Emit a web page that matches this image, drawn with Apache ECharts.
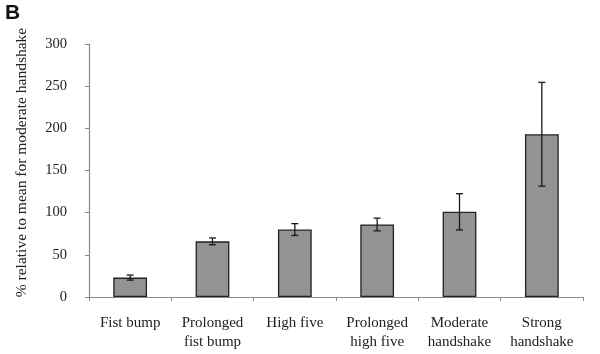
<!DOCTYPE html>
<html><head><meta charset="utf-8">
<script src="https://cdn.jsdelivr.net/npm/echarts@6/dist/echarts.min.js"></script>
<style>html,body{margin:0;padding:0;background:#fff}#c{width:600px;height:354px}</style>
</head><body><div id="c"></div>
<script>
const categories = ['Fist bump', 'Prolonged\nfist bump', 'High five', 'Prolonged\nhigh five', 'Moderate\nhandshake', 'Strong\nhandshake'];
const values = [23, 66, 80, 86, 101, 193];
const errors = [3, 4, 7, 7.5, 21.5, 61.5];
const yTicks = [0, 50, 100, 150, 200, 250, 300];

const errData = values.map((v, i) => [i, v - errors[i], v + errors[i]]);
const serif = 'Liberation Serif';
const chart = echarts.init(document.getElementById('c'), null, {renderer: 'canvas'});
chart.setOption({
  animation: false,
  backgroundColor: '#fff',
  grid: {left: 89, right: 17, top: 44, bottom: 57, containLabel: false},
  graphic: [{type: 'text', left: 5, top: 3, style: {text: 'B', font: 'bold 21px Liberation Sans', fill: '#111'}}],
  xAxis: {
    type: 'category', data: categories,
    axisLine: {lineStyle: {color: '#8a8a8a', width: 1.2}},
    axisTick: {show: true, length: 4, lineStyle: {color: '#8a8a8a'}},
    axisLabel: {fontFamily: serif, fontSize: 15, color: '#222', margin: 17, lineHeight: 19, interval: 0}
  },
  yAxis: {
    type: 'value', min: yTicks[0], max: yTicks[yTicks.length - 1], interval: 50,
    name: '% relative to mean for moderate handshake', nameLocation: 'middle', nameGap: 59,
    nameTextStyle: {fontFamily: serif, fontSize: 15.5, color: '#222', padding: [0, 0, 0, 16]},
    splitLine: {show: false},
    axisLine: {show: true, lineStyle: {color: '#8a8a8a', width: 1.2}},
    axisTick: {show: true, length: 4, lineStyle: {color: '#8a8a8a'}},
    axisLabel: {fontFamily: serif, fontSize: 14.5, color: '#222', margin: 22}
  },
  series: [{
    type: 'bar', data: values, barWidth: '41%',
    itemStyle: {color: '#939393', borderColor: '#222', borderWidth: 1.3}
  }, {
    type: 'custom', data: errData, z: 10,
    renderItem: function (params, api) {
      const x = api.value(0);
      const lo = api.coord([x, api.value(1)]);
      const hi = api.coord([x, api.value(2)]);
      const hw = 3.5;
      const st = {stroke: '#1a1a1a', lineWidth: 1.3};
      return {type: 'group', children: [
        {type: 'line', shape: {x1: lo[0], y1: lo[1], x2: hi[0], y2: hi[1]}, style: st},
        {type: 'line', shape: {x1: lo[0] - hw, y1: lo[1], x2: lo[0] + hw, y2: lo[1]}, style: st},
        {type: 'line', shape: {x1: hi[0] - hw, y1: hi[1], x2: hi[0] + hw, y2: hi[1]}, style: st}
      ]};
    }
  }]
});
</script></body></html>
